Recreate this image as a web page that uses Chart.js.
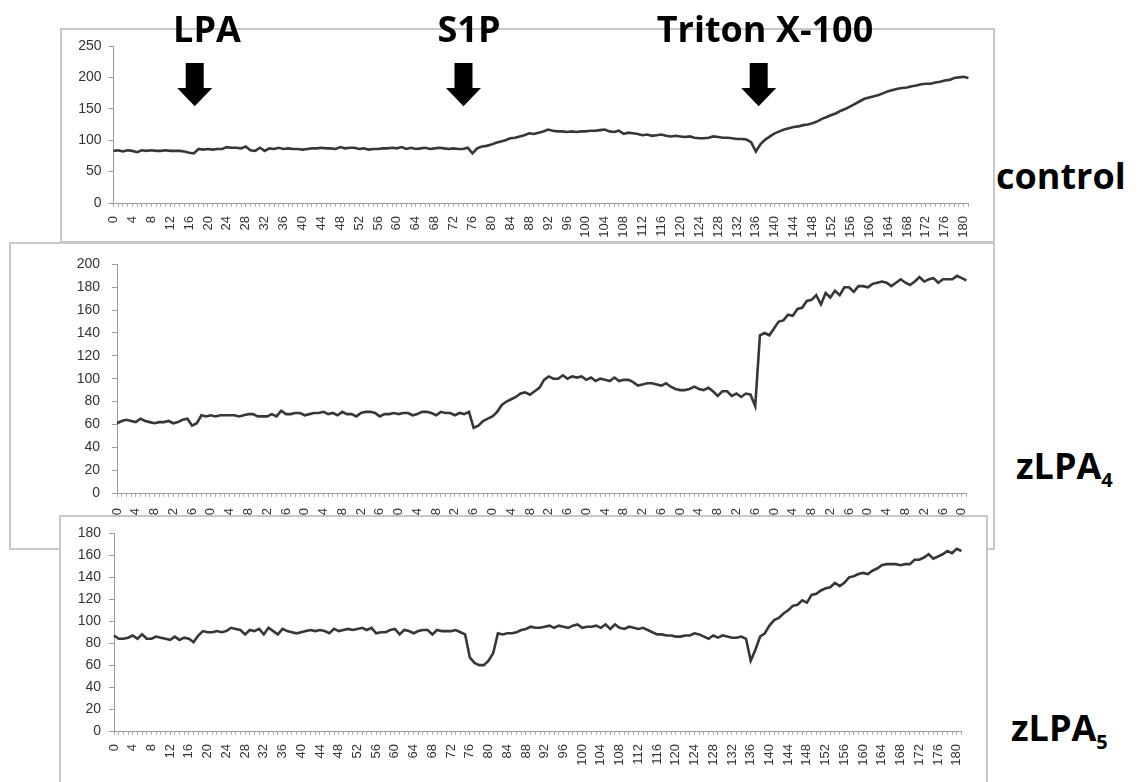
<!DOCTYPE html>
<html>
<head>
<meta charset="utf-8">
<title>Fluorescence traces</title>
<script src="https://cdn.jsdelivr.net/npm/chart.js@4.4.0/dist/chart.umd.min.js"></script>
<style>
  body { margin: 0; width: 1139px; height: 782px; overflow: hidden; position: relative; background: #fff; }
  .frame { position: absolute; box-sizing: border-box; border: 2px solid #c8c8c8; background: #fff; }
  .frame canvas { position: absolute; left: 0; top: 0; }
  .tag { position: absolute; font-family: 'Open Sans', sans-serif; font-weight: 700; font-size: 36px;
         line-height: 1; color: #000; white-space: nowrap; z-index: 5; }
  .tag.center { transform: translateX(-50%); }
  .tag sub { font-size: 20px; vertical-align: baseline; position: relative; top: 8px; }
</style>
</head>
<body>

<div class="frame" id="frame1" style="left:60px; top:28px; width:935px; height:215px; z-index:1;">
  <canvas id="chartControl" width="931" height="211" style="width:931px;height:211px;"></canvas>
</div>
<div class="frame" id="frame2" style="left:9px; top:242px; width:986px; height:308px; z-index:1;">
  <canvas id="chartZ4" width="982" height="304" style="width:982px;height:304px;"></canvas>
</div>
<div class="frame" id="frame3" style="left:59px; top:515px; width:929px; height:300px; z-index:2;">
  <canvas id="chartZ5" width="925" height="265" style="width:925px;height:265px;"></canvas>
</div>

<div class="tag center" style="left:207px; top:11px;">LPA</div>
<div class="tag center" style="left:469px; top:11px;">S1P</div>
<div class="tag center" style="left:765px; top:11px;">Triton X-100</div>

<div class="tag" style="left:996px; top:158px;">control</div>
<div class="tag" style="left:1016px; top:448px;">zLPA<sub>4</sub></div>
<div class="tag" style="left:1011px; top:710px;">zLPA<sub>5</sub></div>

<script>
// ===== data =====
const timeLabels = [
  0,1,2,3,4,5,6,7,8,9,10,11,12,13,14,15,16,17,18,19,
  20,21,22,23,24,25,26,27,28,29,30,31,32,33,34,35,36,37,38,39,
  40,41,42,43,44,45,46,47,48,49,50,51,52,53,54,55,56,57,58,59,
  60,61,62,63,64,65,66,67,68,69,70,71,72,73,74,75,76,77,78,79,
  80,81,82,83,84,85,86,87,88,89,90,91,92,93,94,95,96,97,98,99,
  100,101,102,103,104,105,106,107,108,109,110,111,112,113,114,115,116,117,118,119,
  120,121,122,123,124,125,126,127,128,129,130,131,132,133,134,135,136,137,138,139,
  140,141,142,143,144,145,146,147,148,149,150,151,152,153,154,155,156,157,158,159,
  160,161,162,163,164,165,166,167,168,169,170,171,172,173,174,175,176,177,178,179,
  180,181
];

const controlValues = [
  83,84,82,84,83,81,84,83,84,83,
  83,84,83,83,83,82,80,79,86,85,
  86,85,86,86,89,88,88,87,90,84,
  83,88,83,87,86,88,86,87,86,86,
  85,86,87,87,88,87,87,86,89,87,
  88,88,86,87,85,86,86,87,87,88,
  87,89,86,88,86,87,88,86,87,88,
  87,86,87,86,86,88,79,87,90,91,
  93,96,98,100,103,104,106,108,111,110,
  112,114,117,115,114,114,113,114,113,114,
  114,115,115,116,117,114,113,115,110,112,
  111,110,108,109,107,108,109,107,106,107,
  106,105,106,104,103,103,104,106,105,104,
  104,103,102,102,101,97,82,94,101,106,
  111,114,117,119,121,122,124,125,127,130,
  134,137,140,143,147,150,154,158,162,166,
  168,170,172,175,178,180,182,183,184,186,
  187,189,190,190,192,193,195,196,199,200,
  201,199
];

const zlpa4Values = [
  61,63,64,63,62,65,63,62,61,62,
  62,63,61,62,64,65,59,61,68,67,
  68,67,68,68,68,68,67,68,69,69,
  67,67,67,69,67,72,69,69,70,70,
  68,69,70,70,71,69,70,68,71,69,
  69,67,70,71,71,70,67,69,69,70,
  69,70,70,68,69,71,71,70,68,71,
  70,70,68,70,69,71,57,59,63,65,
  67,71,77,80,82,84,87,88,86,89,
  92,99,102,100,100,103,100,102,101,102,
  99,101,98,100,99,98,101,98,99,99,
  97,94,95,96,96,95,94,96,93,91,
  90,90,91,93,91,90,92,89,85,89,
  89,85,87,84,87,86,76,138,140,138,
  144,150,151,156,155,161,162,168,169,173,
  165,175,171,177,173,180,180,176,181,181,
  180,183,184,185,184,181,184,187,184,182,
  185,189,185,187,188,184,187,187,187,190,
  188,186
];

const zlpa5Values = [
  87,84,84,85,87,84,88,84,84,86,
  85,84,83,86,83,85,84,81,87,91,
  90,90,91,90,91,94,93,92,88,92,
  91,93,88,94,91,88,93,91,90,89,
  90,91,92,91,92,91,89,93,91,92,
  93,92,93,94,92,94,89,90,90,92,
  93,88,92,91,89,91,92,92,88,92,
  91,91,91,92,90,88,67,62,60,60,
  64,71,89,88,89,89,90,92,93,95,
  94,94,95,96,94,96,95,94,96,97,
  94,95,95,96,94,97,93,97,94,93,
  95,94,93,94,92,90,88,88,87,87,
  86,86,87,87,89,88,86,84,87,85,
  87,86,85,85,86,84,64,74,86,89,
  96,101,103,107,110,114,115,119,117,124,
  125,128,130,131,135,132,135,140,141,143,
  144,143,146,148,151,152,152,152,151,152,
  152,156,156,158,161,157,159,161,164,162,
  166,164
];

// where the additions were made (x in time points)
const additionTimes = [17.2, 74.1, 136.6];

Chart.defaults.font.family = "'Liberation Sans', Arial, sans-serif";
Chart.defaults.color = '#333333';

// black down arrows above the control trace
const arrowPlugin = {
    id: 'additionArrows',
    afterDatasetsDraw(chart, args, opts) {
        const { ctx, scales: { x, y } } = chart;
        const top = y.getPixelForValue(opts.from);
        const neck = y.getPixelForValue(opts.neck);
        const tip = y.getPixelForValue(opts.to);
        ctx.save();
        ctx.fillStyle = '#000';
        opts.at.forEach(t => {
            const cx = x.getPixelForValue(t);
            ctx.beginPath();
            ctx.moveTo(cx - opts.shaft / 2, top);
            ctx.lineTo(cx + opts.shaft / 2, top);
            ctx.lineTo(cx + opts.shaft / 2, neck);
            ctx.lineTo(cx + opts.head / 2, neck);
            ctx.lineTo(cx, tip);
            ctx.lineTo(cx - opts.head / 2, neck);
            ctx.lineTo(cx - opts.shaft / 2, neck);
            ctx.closePath();
            ctx.fill();
        });
        ctx.restore();
    }
};

function makeTrace(canvasId, values, yMax, yStep, g, extraPlugins, extraOpts) {
    const ctx = document.getElementById(canvasId).getContext('2d');
    return new Chart(ctx, {
        type: 'line',
        data: {
            labels: timeLabels,
            datasets: [{
                data: values,
                borderColor: '#373737',
                borderWidth: 2.6,
                pointRadius: 0,
                tension: 0,
                fill: false
            }]
        },
        options: {
            responsive: false,
            animation: false,
            devicePixelRatio: 1,
            layout: { padding: { left: 0, top: g.top, right: g.right, bottom: 0 } },
            plugins: Object.assign({ legend: { display: false }, tooltip: { enabled: false } }, extraOpts || {}),
            scales: {
                x: {
                    type: 'category',
                    offset: false,
                    border: { display: true, color: '#9a9a9a', width: 1 },
                    grid: { drawOnChartArea: false, drawTicks: true, tickLength: 4, color: '#b0b0b0' },
                    ticks: {
                        autoSkip: false,
                        minRotation: 90,
                        maxRotation: 90,
                        padding: g.xPad,
                        font: { size: 13 },
                        callback: (v, i) => (i % 4 === 0 ? String(timeLabels[i]) : '')
                    },
                    afterFit: s => { s.height = g.xH; }
                },
                y: {
                    min: 0,
                    max: yMax,
                    border: { display: true, color: '#9a9a9a', width: 1 },
                    grid: { drawOnChartArea: false, drawTicks: true, tickLength: 5, color: '#9a9a9a' },
                    ticks: { stepSize: yStep, padding: g.yPad, font: { size: 14 } },
                    afterFit: s => { s.width = g.yW; }
                }
            }
        },
        plugins: extraPlugins || []
    });
}

makeTrace('chartControl', controlValues, 250, 50,
    { top: 16, right: 15, yW: 51.5, xH: 38, xPad: 9, yPad: 7 },
    [arrowPlugin],
    { additionArrows: { at: additionTimes, from: 223, neck: 183, to: 154, shaft: 18, head: 35 } });

makeTrace('chartZ4', zlpa4Values, 200, 20,
    { top: 11, right: 21, yW: 106, xH: 55, xPad: 11, yPad: 12 });

makeTrace('chartZ5', zlpa5Values, 180, 20,
    { top: 15, right: 20, yW: 53, xH: 51, xPad: 9, yPad: 8 });
</script>
</body>
</html>
